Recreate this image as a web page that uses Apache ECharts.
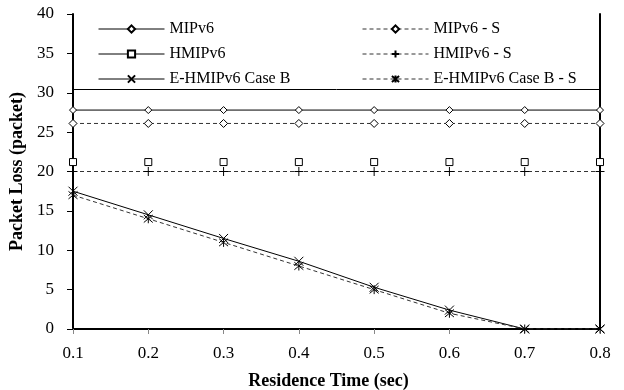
<!DOCTYPE html>
<html><head><meta charset="utf-8">
<script src="https://cdn.jsdelivr.net/npm/echarts@6/dist/echarts.min.js"></script>
<style>html,body{margin:0;padding:0;background:#fff}#c{width:624px;height:390px}</style>
</head><body><div id="c"></div>
<script>
const categories = ['0.1','0.2','0.3','0.4','0.5','0.6','0.7','0.8'];
const mipv6   = [27.8,27.8,27.8,27.8,27.8,27.8,27.8,27.8];
const mipv6S  = [26.1,26.1,26.1,26.1,26.1,26.1,26.1,26.1];
const hmipv6  = [21.2,21.2,21.2,21.2,21.2,21.2,21.2,21.2];
const hmipv6S = [20.0,20.0,20.0,20.0,20.0,20.0,20.0,20.0];
const ehmB    = [17.5,14.5,11.5,8.6,5.3,2.4,0,0];
const ehmBS   = [17.0,14.0,11.0,8.0,5.0,2.0,0,0];
const legendBoxBottom = 30.5;

const FONT = 'Liberation Serif';
const xPath = 'path://M0,0L10,10M10,0L0,10';
const plusPath = 'path://M5,0L5,10M0,5L10,5';
const starPath = 'path://M0,0L10,10M10,0L0,10M5,-1L5,11';
const solid = {color:'#000', width:1, type:'solid'};
const dashed = {color:'#333', width:1, type:[4,3]};
const openMark = {color:'#fff', borderColor:'#000', borderWidth:1};
const strokeMark = {color:'rgba(0,0,0,0)', borderColor:'#000', borderWidth:1};

const legendBase = {orient:'vertical', top:21, padding:0, itemWidth:66, itemHeight:9, itemGap:9,
  lineStyle:{width:1}, textStyle:{fontFamily:FONT, fontSize:16, color:'#000'}};

const chart = echarts.init(document.getElementById('c'), null, {renderer:'canvas'});
chart.setOption({
  animation:false,
  textStyle:{fontFamily:FONT},
  grid:{left:73, right:24, top:14, bottom:61, outerBoundsMode:'none', containLabel:false},
  legend:[
    Object.assign({}, legendBase, {left:98,
     data:['MIPv6', {name:'HMIPv6', lineStyle:{opacity:1, color:'#000', width:1}}, 'E-HMIPv6 Case B']}),
    Object.assign({}, legendBase, {left:362,
     data:['MIPv6 - S','HMIPv6 - S','E-HMIPv6 Case B - S']})
  ],
  xAxis:[{
    type:'category', data:categories, boundaryGap:false,
    name:'Residence Time (sec)', nameLocation:'middle', nameGap:43,
    nameTextStyle:{fontFamily:FONT, fontSize:18, fontWeight:'bold', color:'#000', padding:[0,16,0,0]},
    axisLine:{lineStyle:{color:'#888', width:2}},
    axisTick:{show:true, length:5, lineStyle:{color:'#888'}},
    axisLabel:{fontFamily:FONT, fontSize:17, color:'#000', margin:16},
    splitLine:{show:false}
  },{
    type:'category', data:categories, boundaryGap:false, position:'top',
    axisLine:{lineStyle:{color:'#000', width:2}}, axisTick:{show:false}, axisLabel:{show:false}
  }],
  yAxis:[{
    type:'value', min:0, max:40, interval:5,
    name:'Packet Loss (packet)', nameLocation:'middle', nameGap:38,
    nameTextStyle:{fontFamily:FONT, fontSize:18, fontWeight:'bold', color:'#000'},
    axisLine:{show:true, lineStyle:{color:'#000', width:2}},
    axisTick:{show:true, length:6, lineStyle:{color:'#000'}},
    axisLabel:{fontFamily:FONT, fontSize:17, color:'#000', margin:19},
    splitLine:{show:false}
  },{
    type:'value', min:0, max:40, interval:5, position:'right',
    axisLine:{show:true, lineStyle:{color:'#000', width:2}}, axisTick:{show:false}, axisLabel:{show:false}, splitLine:{show:false}
  }],
  series:[
    {name:'MIPv6', type:'line', data:mipv6, symbol:'diamond', symbolSize:[7,7],
     lineStyle:solid, itemStyle:openMark,
     markLine:{silent:true, symbol:'none', label:{show:false}, lineStyle:{color:'#000', width:1, type:'solid'}, data:[{yAxis:legendBoxBottom}]}},
    {name:'MIPv6 - S', type:'line', data:mipv6S, symbol:'diamond', symbolSize:[8,8], lineStyle:dashed, itemStyle:openMark},
    {name:'HMIPv6', type:'line', data:hmipv6, symbol:'rect', symbolSize:7, lineStyle:{opacity:0, color:'#000'}, itemStyle:openMark},
    {name:'HMIPv6 - S', type:'line', data:hmipv6S, symbol:plusPath, symbolSize:9, lineStyle:dashed, itemStyle:strokeMark},
    {name:'E-HMIPv6 Case B', type:'line', data:ehmB, symbol:xPath, symbolSize:9, lineStyle:solid, itemStyle:strokeMark},
    {name:'E-HMIPv6 Case B - S', type:'line', data:ehmBS, symbol:starPath, symbolSize:9, lineStyle:dashed, itemStyle:strokeMark}
  ]
});
</script></body></html>
